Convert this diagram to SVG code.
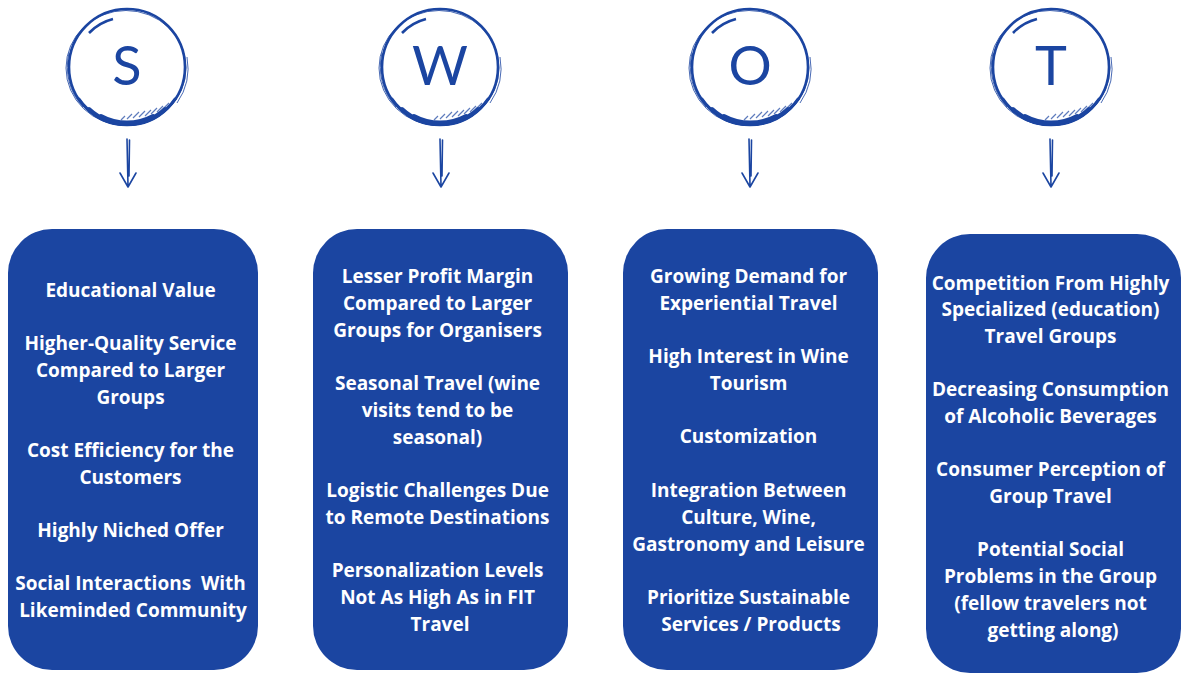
<svg xmlns="http://www.w3.org/2000/svg" width="1186" height="675" viewBox="0 0 1186 675">
<style>
.box{fill:#1b45a1}
.t{font-family:"Open Sans","Liberation Sans",sans-serif;font-weight:700;font-size:19px;fill:#ffffff;text-anchor:middle}
.letter{font-family:Lato,"Open Sans",sans-serif;font-weight:400;font-size:54px;fill:#1b45a1;text-anchor:middle}
.ring{fill:none;stroke:#1b45a1;stroke-width:2.6}
.thin{fill:none;stroke:#1b45a1;stroke-width:1;opacity:0.8}
.hatch{fill:none;stroke:#1b45a1;stroke-width:1.2;opacity:0.7}
.heavy{fill:none;stroke:#1b45a1;stroke-linecap:round}
.conn{fill:none;stroke:#1b45a1;stroke-width:1.6;stroke-linecap:round;stroke-linejoin:round}
</style>
<defs>
<g id="sketch">
<circle class="ring" cx="0" cy="0" r="58"/>
<ellipse class="thin" cx="-1" cy="1" rx="60" ry="57.5"/>
<path class="thin" d="M -58 -14 A 59 59 0 0 0 -44 40"/>
<path class="thin" d="M 60 -10 A 61 61 0 0 1 50 36"/>
<path class="heavy" stroke-width="3" d="M -48 32 A 58 58 0 0 0 48 32"/>
<path class="heavy" stroke-width="4" d="M -38 42 A 56 56 0 0 0 38 42"/>
<path class="heavy" stroke-width="4" d="M -26 49 A 55 55 0 0 0 26 49"/>
<path class="ring" d="M -38 -34 A 50 50 0 0 1 -14 -48" stroke-width="2"/>
<path class="hatch" d="M 6 51 L 12 45 M 12 50 L 18 44 M 18 49 L 24 43 M 24 47 L 30 41 M 30 45 L 36 39 M 36 42 L 42 36 M 0 52 L 5 47 M -6 53 L -2 49"/>
</g>
</defs>

<g id="node-S">
<use href="#sketch" x="127" y="67"/>
<text class="letter" x="127" y="85">S</text>
</g>
<g id="node-W">
<use href="#sketch" x="440" y="67"/>
<text class="letter" x="440" y="85">W</text>
</g>
<g id="node-O">
<use href="#sketch" x="750" y="67"/>
<text class="letter" x="750" y="85">O</text>
</g>
<g id="node-T">
<use href="#sketch" x="1051" y="67"/>
<text class="letter" x="1051" y="85">T</text>
</g>

<g id="box-S">
<rect class="box" x="8" y="229" width="250" height="441" rx="44"/>
<text class="t">
<tspan x="133" y="297">Educational Value</tspan>
<tspan x="133" y="350">Higher-Quality Service</tspan>
<tspan x="133" y="377">Compared to Larger</tspan>
<tspan x="133" y="404">Groups</tspan>
<tspan x="133" y="457">Cost Efficiency for the</tspan>
<tspan x="133" y="484">Customers</tspan>
<tspan x="133" y="537">Highly Niched Offer</tspan>
<tspan x="133" y="590" xml:space="preserve">Social Interactions  With</tspan>
<tspan x="133" y="617">Likeminded Community</tspan>
</text>
</g>

<g id="box-W">
<rect class="box" x="313" y="229" width="255" height="441" rx="44"/>
<text class="t">
<tspan x="440" y="283">Lesser Profit Margin</tspan>
<tspan x="440" y="310">Compared to Larger</tspan>
<tspan x="440" y="337">Groups for Organisers</tspan>
<tspan x="440" y="390">Seasonal Travel (wine</tspan>
<tspan x="440" y="417">visits tend to be</tspan>
<tspan x="440" y="444">seasonal)</tspan>
<tspan x="440" y="497">Logistic Challenges Due</tspan>
<tspan x="440" y="524">to Remote Destinations</tspan>
<tspan x="440" y="577">Personalization Levels</tspan>
<tspan x="440" y="604">Not As High As in FIT</tspan>
<tspan x="440" y="631">Travel</tspan>
</text>
</g>

<g id="box-O">
<rect class="box" x="623" y="229" width="255" height="441" rx="44"/>
<text class="t">
<tspan x="751" y="283">Growing Demand for</tspan>
<tspan x="751" y="310">Experiential Travel</tspan>
<tspan x="751" y="363">High Interest in Wine</tspan>
<tspan x="751" y="390">Tourism</tspan>
<tspan x="751" y="443">Customization</tspan>
<tspan x="751" y="497">Integration Between</tspan>
<tspan x="751" y="524">Culture, Wine,</tspan>
<tspan x="751" y="551">Gastronomy and Leisure</tspan>
<tspan x="751" y="604">Prioritize Sustainable</tspan>
<tspan x="751" y="631">Services / Products</tspan>
</text>
</g>

<g id="box-T">
<rect class="box" x="926" y="234" width="255" height="439" rx="44"/>
<text class="t">
<tspan x="1053" y="290">Competition From Highly</tspan>
<tspan x="1053" y="316">Specialized (education)</tspan>
<tspan x="1053" y="343">Travel Groups</tspan>
<tspan x="1053" y="396">Decreasing Consumption</tspan>
<tspan x="1053" y="423">of Alcoholic Beverages</tspan>
<tspan x="1053" y="476">Consumer Perception of</tspan>
<tspan x="1053" y="503">Group Travel</tspan>
<tspan x="1053" y="556">Potential Social</tspan>
<tspan x="1053" y="583">Problems in the Group</tspan>
<tspan x="1053" y="610">(fellow travelers not</tspan>
<tspan x="1053" y="637">getting along)</tspan>
</text>
</g>

<g id="connectors">
<path class="conn" d="M 127 139 L 128 186 M 129.5 140 L 129 176 M 120 173 L 128 187 L 136 173"/>
<path class="conn" d="M 440 139 L 441 186 M 442.5 140 L 442 176 M 433 173 L 441 187 L 449 173"/>
<path class="conn" d="M 749 139 L 750 186 M 751.5 140 L 751 176 M 742 173 L 750 187 L 758 173"/>
<path class="conn" d="M 1050 139 L 1051 186 M 1052.5 140 L 1052 176 M 1043 173 L 1051 187 L 1059 173"/>
</g>
</svg>
